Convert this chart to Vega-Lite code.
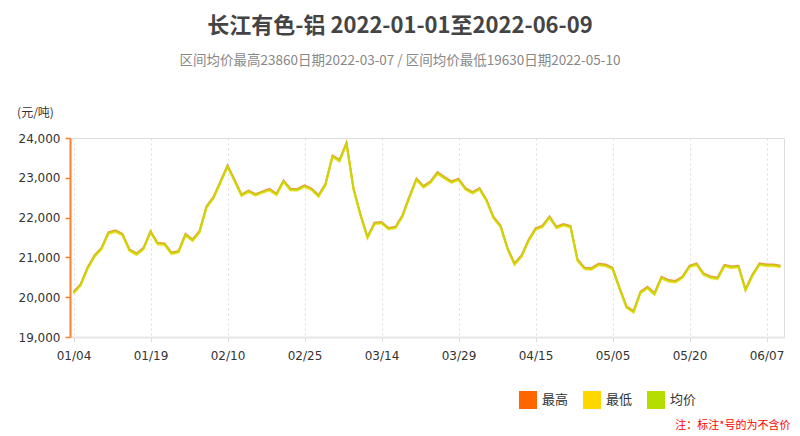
{
  "$schema": "https://vega.github.io/schema/vega-lite/v6.json",
  "width": 714,
  "height": 199,
  "autosize": {"type": "none"},
  "padding": {"left": 70, "top": 138, "right": 16, "bottom": 99},
  "background": "white",
  "title": {
    "text": "长江有色-铝 2022-01-01至2022-06-09",
    "subtitle": "区间均价最高23860日期2022-03-07 / 区间均价最低19630日期2022-05-10",
    "anchor": "middle",
    "frame": "group",
    "dx": -27,
    "offset": 38,
    "font": "Noto Sans CJK SC",
    "fontSize": 22,
    "fontWeight": "bold",
    "color": "#444444",
    "subtitleFont": "Noto Sans CJK SC",
    "subtitleFontSize": 13.5,
    "subtitleColor": "#888888",
    "subtitlePadding": 16
  },
  "data": {
    "values": [
      {"d":"01/04","最高":20130,"最低":20090,"均价":20110},{"d":"01/05","最高":20320,"最低":20280,"均价":20300},
      {"d":"01/06","最高":20740,"最低":20700,"均价":20720},{"d":"01/07","最高":21050,"最低":21010,"均价":21030},
      {"d":"01/10","最高":21240,"最低":21200,"均价":21220},{"d":"01/11","最高":21630,"最低":21590,"均价":21610},
      {"d":"01/12","最高":21680,"最低":21640,"均价":21660},{"d":"01/13","最高":21590,"最低":21550,"均价":21570},
      {"d":"01/14","最高":21200,"最低":21160,"均价":21180},{"d":"01/17","最高":21100,"最低":21060,"均价":21080},
      {"d":"01/18","最高":21240,"最低":21200,"均价":21220},{"d":"01/19","最高":21660,"最低":21620,"均价":21640},
      {"d":"01/20","最高":21370,"最低":21330,"均价":21350},{"d":"01/21","最高":21350,"最低":21310,"均价":21330},
      {"d":"01/24","最高":21120,"最低":21080,"均价":21100},{"d":"01/25","最高":21160,"最低":21120,"均价":21140},
      {"d":"01/26","最高":21590,"最低":21550,"均价":21570},{"d":"01/27","最高":21450,"最低":21410,"均价":21430},
      {"d":"01/28","最高":21660,"最低":21620,"均价":21640},{"d":"02/07","最高":22280,"最低":22240,"均价":22260},
      {"d":"02/08","最高":22520,"最低":22480,"均价":22500},{"d":"02/09","最高":22910,"最低":22870,"均价":22890},
      {"d":"02/10","最高":23310,"最低":23270,"均价":23290},{"d":"02/11","最高":22950,"最低":22910,"均价":22930},
      {"d":"02/14","最高":22580,"最低":22540,"均价":22560},{"d":"02/15","最高":22680,"最低":22640,"均价":22660},
      {"d":"02/16","最高":22590,"最低":22550,"均价":22570},{"d":"02/17","最高":22660,"最低":22620,"均价":22640},
      {"d":"02/18","最高":22720,"最低":22680,"均价":22700},{"d":"02/21","最高":22600,"最低":22560,"均价":22580},
      {"d":"02/22","最高":22930,"最低":22890,"均价":22910},{"d":"02/23","最高":22720,"最低":22680,"均价":22700},
      {"d":"02/24","最高":22720,"最低":22680,"均价":22700},{"d":"02/25","最高":22810,"最低":22770,"均价":22790},
      {"d":"02/28","最高":22730,"最低":22690,"均价":22710},{"d":"03/01","最高":22560,"最低":22520,"均价":22540},
      {"d":"03/02","最高":22850,"最低":22810,"均价":22830},{"d":"03/03","最高":23560,"最低":23520,"均价":23540},
      {"d":"03/04","最高":23450,"最低":23410,"均价":23430},{"d":"03/07","最高":23880,"最低":23840,"均价":23860},
      {"d":"03/08","最高":22740,"最低":22700,"均价":22720},{"d":"03/09","最高":22080,"最低":22040,"均价":22060},
      {"d":"03/10","最高":21520,"最低":21480,"均价":21500},{"d":"03/11","最高":21870,"最低":21830,"均价":21850},
      {"d":"03/14","最高":21890,"最低":21850,"均价":21870},{"d":"03/15","最高":21740,"最低":21700,"均价":21720},
      {"d":"03/16","最高":21770,"最低":21730,"均价":21750},{"d":"03/17","最高":22060,"最低":22020,"均价":22040},
      {"d":"03/18","最高":22540,"最低":22500,"均价":22520},{"d":"03/21","最高":22980,"最低":22940,"均价":22960},
      {"d":"03/22","最高":22790,"最低":22750,"均价":22770},{"d":"03/23","最高":22910,"最低":22870,"均价":22890},
      {"d":"03/24","最高":23140,"最低":23100,"均价":23120},{"d":"03/25","最高":23020,"最低":22980,"均价":23000},
      {"d":"03/28","最高":22910,"最低":22870,"均价":22890},{"d":"03/29","最高":22980,"最低":22940,"均价":22960},
      {"d":"03/30","最高":22740,"最低":22700,"均价":22720},{"d":"03/31","最高":22640,"最低":22600,"均价":22620},
      {"d":"04/01","最高":22740,"最低":22700,"均价":22720},{"d":"04/06","最高":22450,"最低":22410,"均价":22430},
      {"d":"04/07","最高":22020,"最低":21980,"均价":22000},{"d":"04/08","最高":21800,"最低":21760,"均价":21780},
      {"d":"04/11","最高":21240,"最低":21200,"均价":21220},{"d":"04/12","最高":20850,"最低":20810,"均价":20830},
      {"d":"04/13","最高":21050,"最低":21010,"均价":21030},{"d":"04/14","最高":21440,"最低":21400,"均价":21420},
      {"d":"04/15","最高":21730,"最低":21690,"均价":21710},{"d":"04/18","最高":21800,"最低":21760,"均价":21780},
      {"d":"04/19","最高":22030,"最低":21990,"均价":22010},{"d":"04/20","最高":21770,"最低":21730,"均价":21750},
      {"d":"04/21","最高":21840,"最低":21800,"均价":21820},{"d":"04/22","最高":21790,"最低":21750,"均价":21770},
      {"d":"04/25","最高":20950,"最低":20910,"均价":20930},{"d":"04/26","最高":20740,"最低":20700,"均价":20720},
      {"d":"04/27","最高":20730,"最低":20690,"均价":20710},{"d":"04/28","最高":20840,"最低":20800,"均价":20820},
      {"d":"04/29","最高":20820,"最低":20780,"均价":20800},{"d":"05/05","最高":20740,"最低":20700,"均价":20720},
      {"d":"05/06","最高":20240,"最低":20200,"均价":20220},{"d":"05/09","最高":19770,"最低":19730,"均价":19750},
      {"d":"05/10","最高":19650,"最低":19610,"均价":19630},{"d":"05/11","最高":20140,"最低":20100,"均价":20120},
      {"d":"05/12","最高":20260,"最低":20220,"均价":20240},{"d":"05/13","最高":20100,"最低":20060,"均价":20080},
      {"d":"05/16","最高":20510,"最低":20470,"均价":20490},{"d":"05/17","最高":20430,"最低":20390,"均价":20410},
      {"d":"05/18","最高":20410,"最低":20370,"均价":20390},{"d":"05/19","最高":20520,"最低":20480,"均价":20500},
      {"d":"05/20","最高":20790,"最低":20750,"均价":20770},{"d":"05/23","最高":20850,"最低":20810,"均价":20830},
      {"d":"05/24","最高":20600,"最低":20560,"均价":20580},{"d":"05/25","最高":20520,"最低":20480,"均价":20500},
      {"d":"05/26","最高":20490,"最低":20450,"均价":20470},{"d":"05/27","最高":20810,"最低":20770,"均价":20790},
      {"d":"05/30","最高":20770,"最低":20730,"均价":20750},{"d":"05/31","最高":20790,"最低":20750,"均价":20770},
      {"d":"06/01","最高":20200,"最低":20160,"均价":20180},{"d":"06/02","最高":20570,"最低":20530,"均价":20550},
      {"d":"06/06","最高":20850,"最低":20810,"均价":20830},{"d":"06/07","最高":20820,"最低":20780,"均价":20800},
      {"d":"06/08","最高":20820,"最低":20780,"均价":20800},{"d":"06/09","最高":20790,"最低":20750,"均价":20770}
    ]
  },
  "transform": [
    {"fold": ["最高", "最低", "均价"], "as": ["s", "v"]}
  ],
  "mark": {"type": "line", "strokeWidth": 2, "opacity": 0.75},
  "encoding": {
    "x": {
      "field": "d",
      "type": "ordinal",
      "sort": null,
      "scale": {"type": "point", "padding": 0.5},
      "axis": {
        "values": ["01/04","01/19","02/10","02/25","03/14","03/29","04/15","05/05","05/20","06/07"],
        "labelAngle": 0,
        "labelFont": "DejaVu Sans",
        "labelFontSize": 12,
        "labelColor": "#333333",
        "labelPadding": 8,
        "grid": true,
        "gridColor": "#dddddd",
        "gridDash": [2, 3],
        "gridWidth": 1,
        "domainColor": "#e6e6e6",
        "domainWidth": 2,
        "tickColor": "#dddddd",
        "tickSize": 5,
        "title": "注：标注*号的为不含价",
        "titleFont": "Noto Sans CJK SC",
        "titleFontSize": 11,
        "titleFontWeight": "normal",
        "titleColor": "#ff0000",
        "titleAlign": "right",
        "titleBaseline": "middle",
        "titleX": 720,
        "titleY": 88
      }
    },
    "y": {
      "field": "v",
      "type": "quantitative",
      "scale": {"domain": [19000, 24000], "nice": false, "zero": false},
      "axis": {
        "values": [19000, 20000, 21000, 22000, 23000, 24000],
        "format": ",d",
        "grid": false,
        "labelFont": "DejaVu Sans",
        "labelFontSize": 12,
        "labelColor": "#333333",
        "labelPadding": 5,
        "domainColor": "#ff7f2a",
        "domainWidth": 2,
        "tickColor": "#ff7f2a",
        "tickWidth": 1.5,
        "tickSize": 5,
        "title": "(元/吨)",
        "titleFont": "Noto Sans CJK SC",
        "titleFontSize": 12,
        "titleFontWeight": "normal",
        "titleColor": "#333333",
        "titleAngle": 0,
        "titleAlign": "center",
        "titleBaseline": "middle",
        "titleX": -35,
        "titleY": -26
      }
    },
    "color": {
      "field": "s",
      "type": "nominal",
      "scale": {"domain": ["最高", "最低", "均价"], "range": ["#ff6600", "#ffd700", "#b5dd00"]},
      "legend": {
        "title": null,
        "orient": "none",
        "legendX": 449,
        "legendY": 253,
        "direction": "horizontal",
        "columns": 3,
        "padding": 0,
        "symbolType": "square",
        "symbolSize": 324,
        "symbolStrokeWidth": 0,
        "symbolOpacity": 1,
        "labelFont": "Noto Sans CJK SC",
        "labelFontSize": 13,
        "labelColor": "#333333",
        "labelOffset": 5,
        "columnPadding": 14,
        "encode": {
          "symbols": {
            "update": {
              "fill": {"scale": "color", "field": "value"},
              "stroke": {"value": "transparent"}
            }
          }
        }
      }
    },
    "order": {"field": "s"}
  }
}
